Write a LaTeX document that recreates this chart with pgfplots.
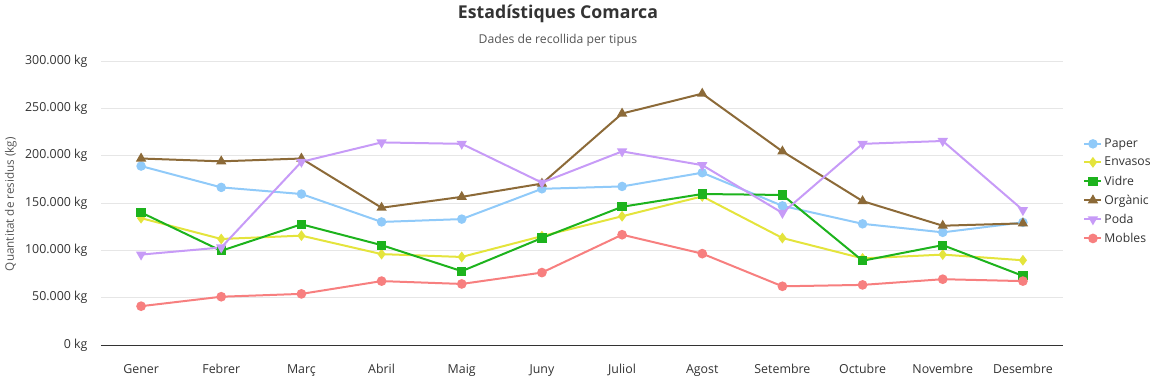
\documentclass[border=0pt]{standalone}
\usepackage{pgfplots}
\pgfplotsset{compat=1.18}
\usepackage{fontspec}
\setmainfont{Open Sans}
\definecolor{cpaper}{HTML}{90CAF9}
\definecolor{cenv}{HTML}{E4E43C}
\definecolor{cvid}{HTML}{1DB31D}
\definecolor{corg}{HTML}{8C6A38}
\definecolor{cpoda}{HTML}{C79BF7}
\definecolor{cmob}{HTML}{F77F7F}
\definecolor{ctick}{HTML}{333333}
\definecolor{csub}{HTML}{555555}
\definecolor{cgrid}{HTML}{E6E6E6}
\begin{document}
\begin{tikzpicture}
\path[use as bounding box] (-101pt,-33pt) rectangle (1056pt,345pt);
\begin{axis}[
  scale only axis, width=962pt, height=284pt,
  xmin=-0.5, xmax=11.5, ymin=0, ymax=300000,
  xtick={0,...,11},
  xticklabels={Gener,Febrer,Març,Abril,Maig,Juny,Juliol,Agost,Setembre,Octubre,Novembre,Desembre},
  ytick={0,50000,100000,150000,200000,250000,300000},
  yticklabels={0 kg,50.000 kg,100.000 kg,150.000 kg,200.000 kg,250.000 kg,300.000 kg},
  scaled y ticks=false,
  tick label style={font=\fontsize{12.4}{14}\selectfont, text=ctick},
  yticklabel style={xshift=-10pt},
  xticklabel style={yshift=-16pt},
  major tick length=0pt,
  axis x line=bottom, axis y line=left,
  x axis line style={-, draw=ctick, line width=1pt},
  y axis line style={draw=none},
  ymajorgrids, grid style={cgrid, line width=0.8pt},
  ylabel={Quantitat de residus (kg)},
  ylabel style={at={(axis description cs:-0.0936,0.496)}, anchor=center, font=\fontsize{11.7}{13}\selectfont, text=csub},
  legend style={at={(axis description cs:1.021,0.734)}, anchor=north west, draw=none, fill=none,
    font=\fontsize{12.2}{14}\selectfont, text=ctick, row sep=4.3pt, inner sep=0pt},
  legend cell align=left,
  every axis plot/.append style={line width=2pt},
  clip=false,
]
\addplot[cpaper, mark=*, mark size=3.7pt, mark options={solid, fill=cpaper}] coordinates {
(0,189000)(1,166500)(2,159500)(3,130000)(4,133000)(5,165000)(6,167500)(7,182000)(8,147000)(9,128000)(10,119000)(11,129500)};
\addlegendentry{Paper}
\addplot[cenv, mark=diamond*, mark size=3.8pt, mark options={solid, fill=cenv}] coordinates {
(0,134000)(1,112000)(2,115500)(3,96000)(4,93000)(5,115000)(6,136000)(7,157000)(8,113000)(9,91500)(10,95500)(11,89500)};
\addlegendentry{Envasos}
\addplot[cvid, mark=square*, mark size=3.6pt, mark options={solid, fill=cvid}] coordinates {
(0,140000)(1,99500)(2,127500)(3,105500)(4,78000)(5,113000)(6,146000)(7,159500)(8,158500)(9,89000)(10,105500)(11,73000)};
\addlegendentry{Vidre}
\addplot[corg, mark=triangle*, mark size=4pt, mark options={solid, fill=corg}] coordinates {
(0,197000)(1,194000)(2,197000)(3,145000)(4,156500)(5,170500)(6,244500)(7,265500)(8,204500)(9,152000)(10,126000)(11,128500)};
\addlegendentry{Orgànic}
\addplot[cpoda, mark=triangle*, mark size=4pt, mark options={solid, fill=cpoda, rotate=180}] coordinates {
(0,95500)(1,103000)(2,193500)(3,214000)(4,212500)(5,171500)(6,204500)(7,190000)(8,139500)(9,212500)(10,215500)(11,142500)};
\addlegendentry{Poda}
\addplot[cmob, mark=*, mark size=3.8pt, mark options={solid, fill=cmob}] coordinates {
(0,41000)(1,51000)(2,54000)(3,67500)(4,64500)(5,76500)(6,116500)(7,96500)(8,62000)(9,63500)(10,69500)(11,67500)};
\addlegendentry{Mobles}
\end{axis}
\node[font=\fontsize{17.7}{21}\selectfont\bfseries, text=ctick] at (457pt,331pt) {Estadístiques Comarca};
\node[font=\fontsize{12.2}{14}\selectfont, text=csub] at (457pt,305pt) {Dades de recollida per tipus};
\end{tikzpicture}
\end{document}
